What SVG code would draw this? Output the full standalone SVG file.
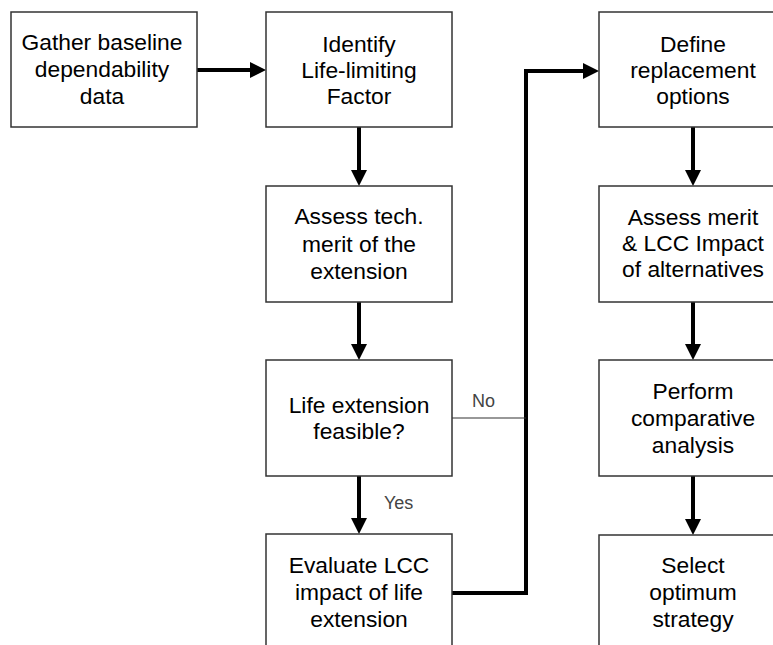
<svg xmlns="http://www.w3.org/2000/svg" width="773" height="645" viewBox="0 0 773 645">
<style>
.box{fill:#fff;stroke:#333;stroke-width:1.5}
.t{font-family:"Liberation Sans",Arial,sans-serif;font-size:22.8px;fill:#000;text-anchor:middle}
.lbl{font-family:"Liberation Sans",Arial,sans-serif;font-size:18px;fill:#444}
.c{fill:none;stroke:#000;stroke-width:4}
.thin{fill:none;stroke:#333;stroke-width:1.2}
</style>
<defs>
<marker id="ah" markerUnits="userSpaceOnUse" markerWidth="16" markerHeight="16" refX="4" refY="8" orient="auto">
<path d="M0,0 L16,8 L0,16 z" fill="#000"/>
</marker>
</defs>
<rect width="773" height="645" fill="#fff"/>
<g id="connectors">
<line class="c" x1="197" y1="70" x2="254" y2="70" marker-end="url(#ah)"/>
<line class="c" x1="359" y1="127" x2="359" y2="174" marker-end="url(#ah)"/>
<line class="c" x1="359" y1="302" x2="359" y2="348" marker-end="url(#ah)"/>
<line class="c" x1="359" y1="476" x2="359" y2="522" marker-end="url(#ah)"/>
<line class="c" x1="693" y1="127" x2="693" y2="174" marker-end="url(#ah)"/>
<line class="c" x1="693" y1="302" x2="693" y2="348" marker-end="url(#ah)"/>
<line class="c" x1="693" y1="476" x2="693" y2="523" marker-end="url(#ah)"/>
<path class="c" d="M452,593 H526 V71 H587" marker-end="url(#ah)"/>
<line class="thin" x1="452" y1="418" x2="526" y2="418"/>
<text class="lbl" x="472" y="407">No</text>
<text class="lbl" x="384" y="509">Yes</text>
</g>
<g id="n1"><rect class="box" x="11" y="12" width="186" height="115"/>
<text class="t" x="102" y="50">Gather baseline</text><text class="t" x="102" y="77">dependability</text><text class="t" x="102" y="104">data</text></g>
<g id="n2"><rect class="box" x="266" y="12" width="186" height="115"/>
<text class="t" x="359" y="52">Identify</text><text class="t" x="359" y="78">Life-limiting</text><text class="t" x="359" y="104">Factor</text></g>
<g id="n3"><rect class="box" x="266" y="186" width="186" height="116"/>
<text class="t" x="359" y="224">Assess tech.</text><text class="t" x="359" y="252">merit of the</text><text class="t" x="359" y="279">extension</text></g>
<g id="n4"><rect class="box" x="266" y="360" width="186" height="116"/>
<text class="t" x="359" y="413">Life extension</text><text class="t" x="359" y="439">feasible?</text></g>
<g id="n5"><rect class="box" x="266" y="534" width="186" height="120"/>
<text class="t" x="359" y="573">Evaluate LCC</text><text class="t" x="359" y="600">impact of life</text><text class="t" x="359" y="627">extension</text></g>
<g id="n6"><rect class="box" x="599" y="12" width="188" height="115"/>
<text class="t" x="693" y="52">Define</text><text class="t" x="693" y="78">replacement</text><text class="t" x="693" y="104">options</text></g>
<g id="n7"><rect class="box" x="599" y="186" width="188" height="116"/>
<text class="t" x="693" y="225">Assess merit</text><text class="t" x="693" y="251">&amp; LCC Impact</text><text class="t" x="693" y="277">of alternatives</text></g>
<g id="n8"><rect class="box" x="599" y="360" width="188" height="116"/>
<text class="t" x="693" y="399">Perform</text><text class="t" x="693" y="426">comparative</text><text class="t" x="693" y="453">analysis</text></g>
<g id="n9"><rect class="box" x="599" y="535" width="188" height="120"/>
<text class="t" x="693" y="573">Select</text><text class="t" x="693" y="600">optimum</text><text class="t" x="693" y="627">strategy</text></g>
</svg>
